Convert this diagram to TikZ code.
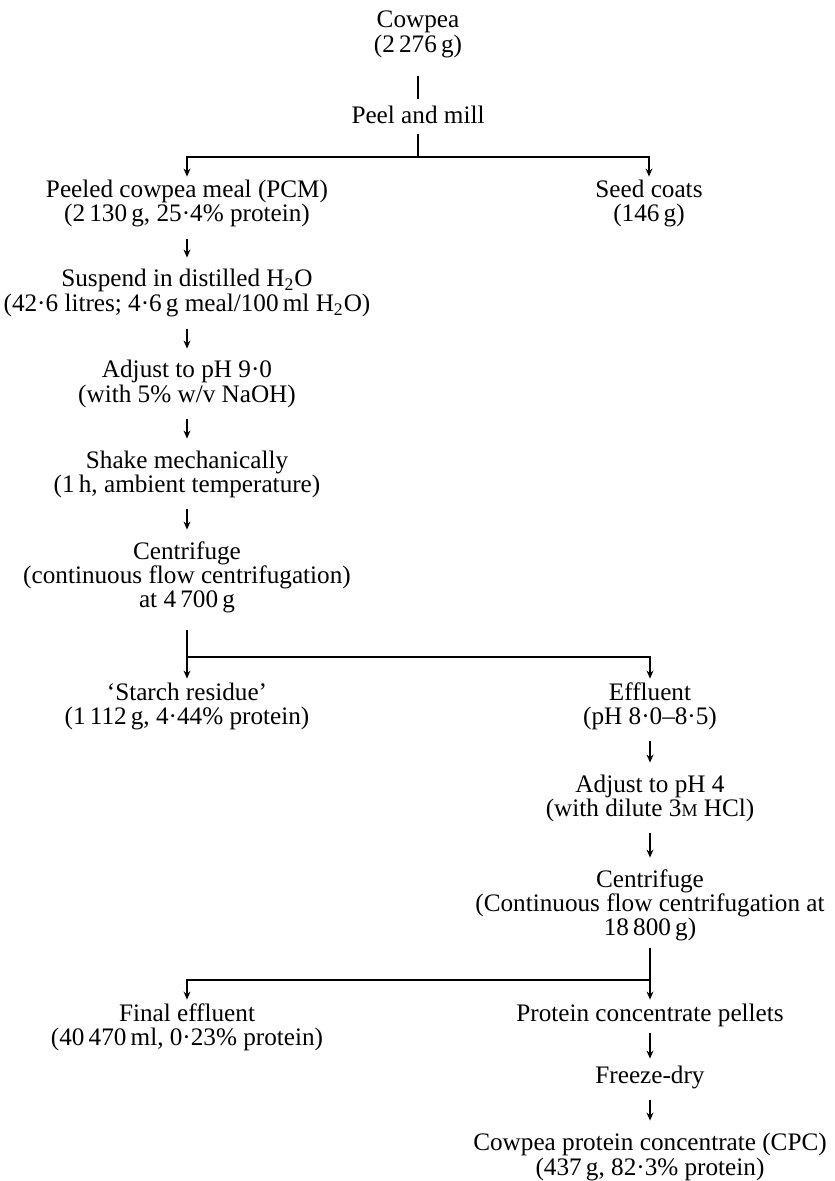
\documentclass[tikz,border=0pt]{standalone}
\usepackage{fontspec}
\setmainfont{Liberation Serif}
\usetikzlibrary{arrows.meta}
\begin{document}
\begin{tikzpicture}[x=0.5pt,y=-0.5pt,
  txt/.style={inner sep=0pt, anchor=base, text height=8.5pt, text depth=2.5pt,
              font=\fontsize{12.6}{14}\selectfont},
  ln/.style={line width=0.7pt},
  arr/.style={ln, -{Stealth[length=4pt,width=3.4pt]}},
  dn/.style={arr, shorten <=6pt, shorten >=6pt}]
\useasboundingbox (0,0) rectangle (834,1181);
% top
\node[txt] (cow1) at (418,28) {Cowpea};
\node[txt] (cow2) at (418,53) {(2\,276\,g)};
\node[txt] (peel) at (418,124) {Peel and mill};
\coordinate (j0) at (418,157);
% first split
\node[txt] (pcm1) at (187,198) {Peeled cowpea meal (PCM)};
\node[txt] (pcm2) at (187,222) {(2\,130\,g, 25·4\% protein)};
\node[txt] (seed1) at (649,198) {Seed coats};
\node[txt] (seed2) at (649,222) {(146\,g)};
% left column
\node[txt] (sus1) at (187,287) {Suspend in distilled H\textsubscript{2}O};
\node[txt] (sus2) at (187,312) {(42·6 litres; 4·6\,g meal/100\,ml H\textsubscript{2}O)};
\node[txt] (adj1) at (187,378) {Adjust to pH 9·0};
\node[txt] (adj2) at (187,402) {(with 5\% w/v NaOH)};
\node[txt] (sha1) at (187,468) {Shake mechanically};
\node[txt] (sha2) at (187,492) {(1\,h, ambient temperature)};
\node[txt] (cen1) at (187,559) {Centrifuge};
\node[txt] (cen2) at (187,583) {(continuous flow centrifugation)};
\node[txt] (cen3) at (187,607) {at 4\,700\,g};
\coordinate (j1) at (187,657);
% second split
\node[txt] (sta1) at (187,700) {`Starch residue'};
\node[txt] (sta2) at (187,724) {(1\,112\,g, 4·44\% protein)};
\node[txt] (eff1) at (650,700) {Effluent};
\node[txt] (eff2) at (650,724) {(pH 8·0--8·5)};
\node[txt] (adf1) at (650,792) {Adjust to pH 4};
\node[txt] (adf2) at (650,816) {(with dilute 3{\fontsize{9}{9}\selectfont M} HCl)};
\node[txt] (cer1) at (650,887) {Centrifuge};
\node[txt] (cer2) at (650,911) {(Continuous flow centrifugation at};
\node[txt] (cer3) at (650,935) {18\,800\,g)};
\coordinate (j2) at (650,980);
% third split
\node[txt] (fin1) at (187,1021) {Final effluent};
\node[txt] (fin2) at (187,1045) {(40\,470\,ml, 0·23\% protein)};
\node[txt] (pel) at (650,1021) {Protein concentrate pellets};
\node[txt] (frz) at (650,1083) {Freeze-dry};
\node[txt] (cpc1) at (650,1150) {Cowpea protein concentrate (CPC)};
\node[txt] (cpc2) at (650,1175) {(437\,g, 82·3\% protein)};
% connectors
\draw[ln, shorten <=9pt, shorten >=4pt] (cow2) -- (peel);
\draw[ln, shorten <=2.5pt] (peel) -- (j0);
\draw[arr, shorten >=2pt] (j0) -| (pcm1);
\draw[arr, shorten >=2pt] (j0) -| (seed1);
\draw[dn] (pcm2) -- (sus1);
\draw[dn] (sus2) -- (adj1);
\draw[dn] (adj2) -- (sha1);
\draw[dn] (sha2) -- (cen1);
\draw[arr, shorten <=9pt, shorten >=2pt] (cen3) -- (sta1);
\draw[arr, shorten >=2pt] (j1) -| (eff1);
\draw[dn] (eff2) -- (adf1);
\draw[dn] (adf2) -- (cer1);
\draw[arr, shorten <=4pt, shorten >=2pt] (cer3) -- (pel);
\draw[arr, shorten >=2pt] (j2) -| (fin1);
\draw[dn, shorten <=3.5pt, shorten >=3.5pt] (pel) -- (frz);
\draw[dn] (frz) -- (cpc1);
\end{tikzpicture}
\end{document}
